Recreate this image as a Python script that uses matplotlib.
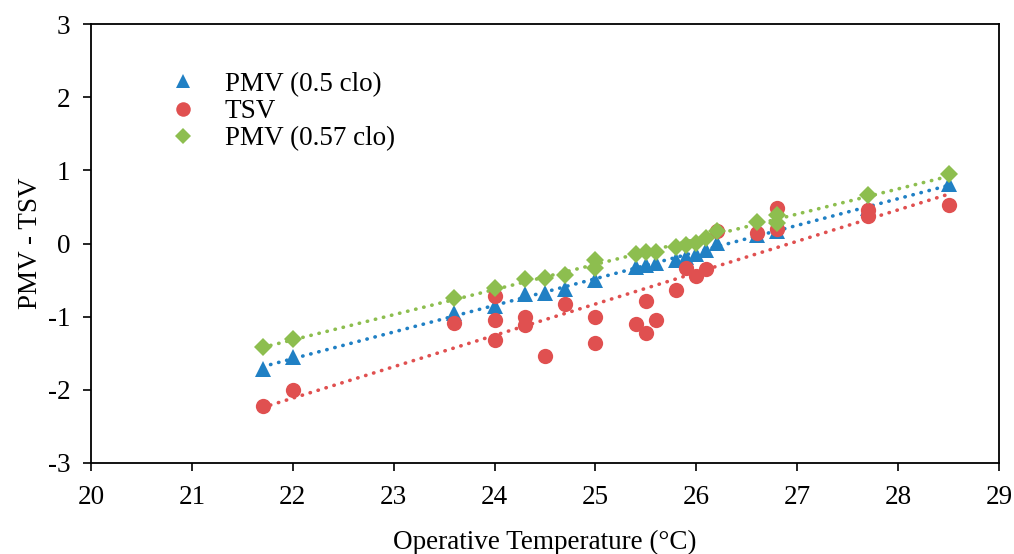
import matplotlib
matplotlib.use("Agg")
import matplotlib.pyplot as plt
import numpy as np

plt.rcParams['font.family'] = ['Liberation Serif', 'DejaVu Serif']
plt.rcParams['axes.unicode_minus'] = False

x_pmv05 = [21.7, 22.0, 23.6, 24.0, 24.3, 24.5, 24.7, 25.0, 25.4, 25.5, 25.6, 25.8, 25.9, 26.0, 26.1, 26.2, 26.6, 26.8, 27.7, 28.5]
y_pmv05 = [-1.72, -1.55, -0.95, -0.85, -0.69, -0.67, -0.62, -0.50, -0.32, -0.29, -0.27, -0.22, -0.18, -0.15, -0.09, 0.01, 0.12, 0.17, 0.48, 0.82]

x_tsv = [21.7, 22.0, 23.6, 24.0, 24.0, 24.0, 24.3, 24.3, 24.5, 24.7, 25.0, 25.0, 25.4, 25.5, 25.5, 25.6, 25.8, 25.9, 26.0, 26.1, 26.2, 26.6, 26.8, 26.8, 27.7, 27.7, 28.5]
y_tsv = [-2.22, -2.0, -1.08, -0.72, -1.04, -1.32, -1.0, -1.12, -1.54, -0.83, -1.0, -1.36, -1.1, -0.79, -1.23, -1.04, -0.64, -0.33, -0.45, -0.35, 0.17, 0.14, 0.48, 0.20, 0.46, 0.37, 0.53]

x_pmv057 = [21.7, 22.0, 23.6, 24.0, 24.3, 24.5, 24.7, 25.0, 25.0, 25.4, 25.5, 25.6, 25.8, 25.9, 26.0, 26.1, 26.2, 26.6, 26.8, 26.8, 27.7, 28.5]
y_pmv057 = [-1.41, -1.31, -0.75, -0.61, -0.48, -0.47, -0.43, -0.23, -0.33, -0.15, -0.12, -0.11, -0.05, -0.02, 0.01, 0.08, 0.17, 0.30, 0.39, 0.28, 0.66, 0.95]

labels = ['PMV (0.5 clo)', 'TSV', 'PMV (0.57 clo)']
x_ticks = [20, 21, 22, 23, 24, 25, 26, 27, 28, 29]
y_ticks = [-3, -2, -1, 0, 1, 2, 3]

c_blue = '#2080C4'
c_red = '#E05050'
c_green = '#8DBE4F'

fig = plt.figure(figsize=(10.14, 5.54), dpi=100)
ax = fig.add_axes([91/1014, 1 - 463/554, 908/1014, 439/554])

series = [
    (x_pmv05, y_pmv05, c_blue, '^', 11),
    (x_tsv, y_tsv, c_red, 'o', 11),
    (x_pmv057, y_pmv057, c_green, 'D', 9),
]

for xs, ys, c, m, ms in series:
    xs_a = np.array(xs); ys_a = np.array(ys)
    k, b = np.polyfit(xs_a, ys_a, 1)
    xl = np.array([xs_a.min(), xs_a.max()])
    ax.plot(xl, k * xl + b, color=c, lw=2.6, linestyle=(0, (0.1, 2.2)),
            dash_capstyle='round', zorder=2)

handles = []
for (xs, ys, c, m, ms), lab in zip(series, labels):
    h, = ax.plot(xs, ys, linestyle='none', marker=m, ms=ms, color=c,
                 markeredgewidth=0, label=lab, zorder=3)
    handles.append(h)

ax.set_xlim(20, 29)
ax.set_ylim(-3, 3)
ax.set_xticks(x_ticks)
ax.set_yticks(y_ticks)
ax.tick_params(direction='out', length=6, width=1.2, labelsize=19.5)
ax.tick_params(axis='x', pad=10)
ax.tick_params(axis='y', pad=9)
for s in ax.spines.values():
    s.set_linewidth(1.3)

ax.set_xlabel('Operative Temperature (°C)', fontsize=19.5, labelpad=14)
ax.set_ylabel('PMV - TSV', fontsize=19.5, labelpad=3)

leg = ax.legend(handles=handles, loc='upper left', bbox_to_anchor=(0.0865, 0.891),
                frameon=False, fontsize=19.5, handlelength=1.0, handletextpad=1.04,
                labelspacing=0.08, borderaxespad=0, borderpad=0, markerscale=0.95)

fig.savefig('out.png', dpi=100)
